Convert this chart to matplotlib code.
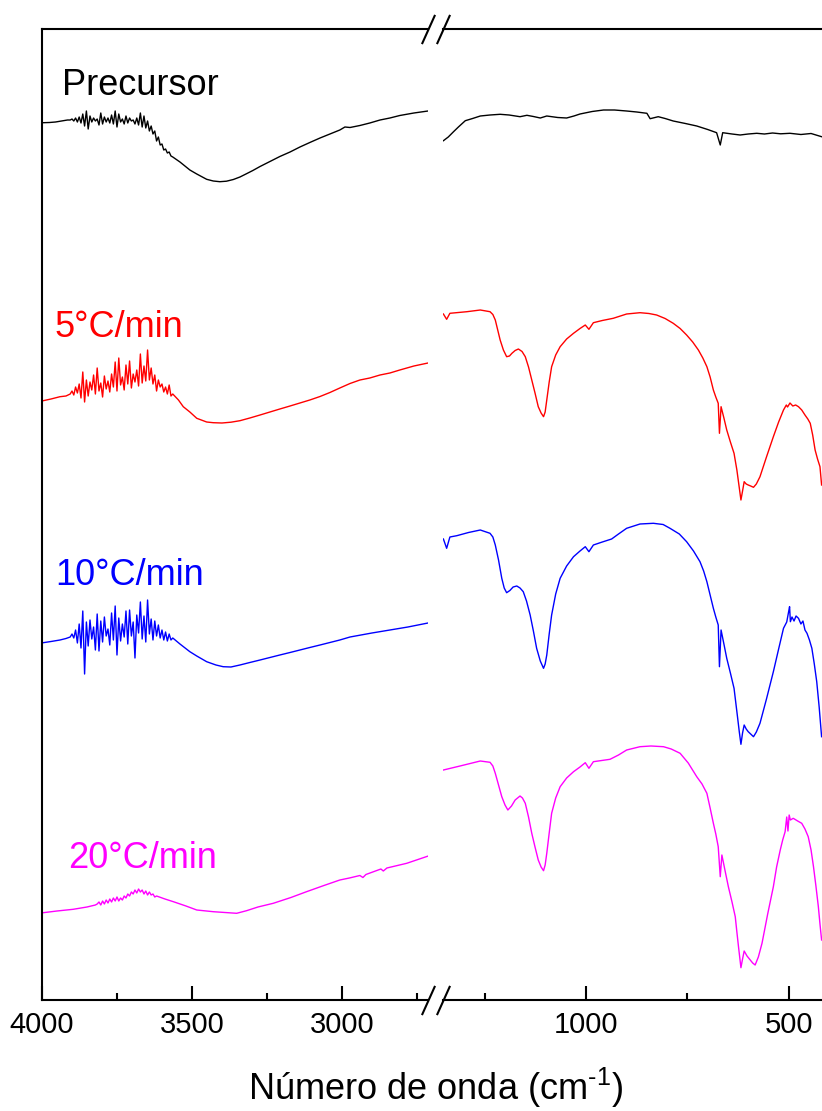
import matplotlib
matplotlib.use("Agg")
import matplotlib.pyplot as plt

plt.rcParams['font.family'] = ['Liberation Sans', 'DejaVu Sans']
plt.rcParams['mathtext.fontset'] = 'custom'
plt.rcParams['mathtext.rm'] = 'Liberation Sans'
plt.rcParams['mathtext.it'] = 'Liberation Sans:italic'

# ---------------------------------------------------------------- data
# shared wavenumber grid of the noisy O-H region (cm^-1)
noise_wn = [3906, 3900, 3894, 3888, 3882, 3876, 3870, 3864, 3858, 3852,
            3846, 3840, 3834, 3828, 3822, 3816, 3810, 3804, 3798, 3792,
            3786, 3780, 3774, 3768, 3762, 3756, 3750, 3744, 3738, 3732,
            3726, 3720, 3714, 3708, 3702, 3696, 3690, 3684, 3678, 3672,
            3666, 3660, 3654, 3648, 3642, 3636, 3630, 3624, 3618, 3612,
            3606, 3600, 3594, 3588, 3582, 3576, 3570, 3564]

# Precursor
prec_hi_wn = ([3996, 3975, 3955, 3935, 3915] + noise_wn +
              [3540, 3507, 3484, 3451, 3429, 3407, 3385, 3362, 3340, 3320,
               3297, 3273, 3240, 3207, 3173, 3140, 3107, 3073, 3040, 3007,
               2990, 2973, 2940, 2907, 2873, 2840, 2807, 2760, 2713])
prec_hi_t = ([87.73, 87.75, 87.8, 87.9, 88.0] +
             [88.0, 88.1, 87.9, 88.2, 87.8, 88.3, 87.7, 88.6, 87.4, 88.9,
              87.1, 88.4, 87.8, 88.2, 87.9, 88.1, 87.5, 88.7, 87.6, 88.3,
              87.8, 88.2, 87.7, 88.5, 87.6, 88.9, 87.3, 88.6, 87.8, 88.1,
              87.6, 88.4, 87.7, 88.2, 87.9, 88.0, 87.6, 88.2, 87.5, 88.7,
              87.3, 88.4, 87.2, 87.9, 86.9, 87.4, 86.6, 86.9, 85.9, 86.3,
              85.5, 85.6, 85.0, 85.1, 84.7, 84.8, 84.4, 84.3] +
             [83.8, 83.0, 82.6, 82.07, 81.9, 81.83, 81.88, 82.05, 82.3, 82.6,
              82.95, 83.35, 83.85, 84.35, 84.8, 85.3, 85.75, 86.2, 86.6, 87.0,
              87.3, 87.25, 87.45, 87.7, 88.0, 88.2, 88.45, 88.7, 88.9])
prec_lo_wn = [1352, 1340, 1327, 1315, 1298, 1280, 1261, 1237, 1212, 1190,
              1163, 1146, 1130, 1113, 1097, 1070, 1048, 1030, 1015, 985,
              957, 930, 900, 875, 850, 842, 835, 822, 805, 785, 755, 727,
              700, 678, 669, 663, 640, 620, 600, 579, 560, 540, 520, 497,
              470, 445, 419]
prec_lo_t = [85.93, 86.3, 86.83, 87.3, 87.93, 88.15, 88.4, 88.5, 88.57, 88.5,
             88.33, 88.47, 88.35, 88.2, 88.4, 88.25, 88.2, 88.4, 88.6, 88.85,
             89.0, 89.0, 88.9, 88.8, 88.67, 88.13, 88.2, 88.33, 88.15, 87.9,
             87.65, 87.4, 87.05, 86.73, 85.5, 86.73, 86.6, 86.5, 86.6, 86.67,
             86.6, 86.7, 86.62, 86.67, 86.55, 86.65, 86.33]

# 5 °C/min
r5_hi_wn = ([3996, 3970, 3940, 3920] + noise_wn +
            [3545, 3529, 3507, 3484, 3451, 3429, 3400, 3370, 3340, 3307,
             3273, 3240, 3207, 3173, 3140, 3107, 3073, 3040, 3007, 2973,
             2940, 2907, 2873, 2840, 2807, 2760, 2713])
r5_hi_t = ([59.93, 60.1, 60.33, 60.4] +
           [60.6, 60.9, 60.5, 61.3, 60.7, 61.6, 60.2, 62.8, 59.8, 62.0,
            60.4, 61.8, 61.0, 62.5, 60.6, 63.2, 60.9, 61.7, 60.3, 62.4,
            61.1, 61.9, 60.8, 62.6, 61.3, 63.8, 60.9, 64.2, 61.5, 62.3,
            61.0, 63.5, 61.6, 63.9, 61.2, 62.6, 61.8, 63.0, 61.4, 64.6,
            61.7, 63.4, 61.9, 65.0, 62.0, 63.2, 61.6, 62.5, 60.9, 62.0,
            61.3, 61.6, 60.8, 61.3, 60.6, 61.5, 60.4, 60.6] +
           [60.0, 59.33, 58.8, 58.17, 57.8, 57.73, 57.7, 57.78, 57.93, 58.2,
            58.5, 58.8, 59.1, 59.4, 59.7, 60.0, 60.35, 60.75, 61.2, 61.65,
            62.0, 62.2, 62.5, 62.7, 63.0, 63.4, 63.7])
r5_lo_wn = [1352, 1344, 1336, 1294, 1261, 1237, 1230, 1224, 1218, 1212,
            1204, 1196, 1189, 1183, 1175, 1167, 1158, 1150, 1142, 1134,
            1126, 1118, 1111, 1105, 1101, 1097, 1091, 1085, 1075, 1064,
            1048, 1031, 1015, 1002, 993, 982, 960, 933, 900, 867, 845, 826,
            805, 785, 768, 752, 737, 723, 712, 702, 694, 686, 680, 674,
            671, 667, 660, 653, 644, 635, 628, 622, 618, 614, 610, 605,
            600, 594, 587, 580, 571, 555, 538, 525, 513, 506, 503, 497,
            490, 483, 476, 468, 460, 453, 447, 441, 435, 429, 423, 419]
r5_lo_t = [68.6, 68.07, 68.67, 68.83, 69.0, 68.83, 68.55, 68.0, 67.0, 66.0,
           65.0, 64.33, 64.4, 64.67, 64.95, 65.1, 64.85, 64.33, 63.3, 62.0,
           60.7, 59.33, 58.7, 58.33, 58.8, 60.0, 61.8, 63.33, 64.5, 65.33,
           66.1, 66.67, 67.15, 67.5, 67.07, 67.73, 67.95, 68.17, 68.6, 68.73,
           68.65, 68.5, 68.15, 67.67, 67.15, 66.5, 65.8, 65.0, 64.2, 63.33,
           62.3, 61.0, 60.3, 59.67, 56.67, 59.33, 58.2, 57.0, 55.8, 54.67,
           53.0, 51.2, 50.0, 50.9, 51.83, 51.6, 51.5, 51.4, 51.27, 51.6,
           52.33, 54.3, 56.33, 57.8, 59.0, 59.5, 59.3, 59.7, 59.4, 59.5,
           59.33, 59.0, 58.5, 58.1, 57.67, 56.5, 55.0, 54.1, 53.33, 51.5]

# 10 °C/min
r10_hi_wn = ([3996, 3970, 3940, 3920] + noise_wn +
             [3540, 3507, 3484, 3451, 3420, 3396, 3370, 3340, 3307, 3273,
              3240, 3207, 3173, 3140, 3107, 3073, 3040, 3007, 2973, 2900,
              2840, 2780, 2713])
r10_hi_t = ([35.73, 35.85, 36.0, 36.15] +
            [36.3, 36.6, 36.2, 37.0, 35.7, 37.6, 35.2, 38.9, 32.6, 37.8,
             35.4, 38.0, 36.1, 37.3, 35.0, 38.6, 34.9, 37.9, 35.8, 38.3,
             36.4, 37.1, 35.5, 38.7, 36.0, 39.4, 34.5, 38.2, 35.9, 37.6,
             36.3, 38.9, 35.6, 39.0, 36.4, 37.8, 34.2, 38.5, 36.7, 39.8,
             36.1, 38.4, 35.8, 40.0, 36.6, 38.1, 36.0, 37.9, 36.4, 37.5,
             36.2, 37.0, 36.0, 36.8, 35.9, 36.6, 36.0, 36.2] +
            [35.6, 34.83, 34.4, 33.83, 33.5, 33.33, 33.3, 33.5, 33.75, 34.0,
             34.25, 34.5, 34.75, 35.0, 35.25, 35.5, 35.75, 36.0, 36.3, 36.7,
             37.0, 37.3, 37.7])
r10_lo_wn = [1352, 1344, 1336, 1319, 1290, 1261, 1237, 1230, 1224, 1216,
             1208, 1202, 1196, 1188, 1180, 1171, 1163, 1155, 1147, 1138,
             1130, 1122, 1113, 1105, 1101, 1097, 1091, 1085, 1075, 1064,
             1048, 1031, 1015, 1002, 993, 982, 960, 937, 920, 900, 867,
             834, 810, 793, 770, 752, 735, 719, 710, 702, 694, 686, 680,
             674, 671, 667, 660, 653, 644, 635, 627, 622, 618, 614, 610,
             605, 600, 594, 587, 580, 571, 555, 538, 525, 513, 505, 500,
             498, 496, 492, 487, 482, 476, 470, 465, 460, 455, 449, 443,
             437, 431, 425, 419]
r10_lo_t = [46.1, 45.17, 46.3, 46.43, 46.75, 47.0, 46.67, 46.3, 45.5, 44.0,
            42.17, 41.2, 40.73, 40.95, 41.3, 41.4, 41.2, 40.83, 39.9, 38.5,
            36.9, 35.17, 33.9, 33.17, 33.6, 34.5, 36.6, 38.5, 40.6, 42.17,
            43.4, 44.33, 44.9, 45.33, 44.83, 45.5, 45.8, 46.1, 46.6, 47.17,
            47.6, 47.67, 47.55, 47.17, 46.6, 45.83, 44.9, 43.83, 42.9, 41.83,
            40.5, 39.17, 38.3, 37.5, 33.33, 37.0, 35.6, 34.17, 32.7, 31.17,
            28.5, 26.8, 25.57, 26.7, 27.5, 27.1, 26.83, 26.6, 26.33, 26.8,
            27.67, 30.1, 32.83, 35.1, 37.17, 37.8, 38.9, 39.33, 37.83, 38.3,
            37.9, 38.4, 38.17, 37.6, 37.9, 37.0, 36.67, 36.0, 35.17, 33.6,
            31.83, 29.3, 26.33]

# 20 °C/min
r20_hi_wn = ([3996, 3950, 3896, 3850, 3822] +
             [3816, 3810, 3804, 3798, 3792, 3786, 3780, 3774, 3768, 3762,
              3756, 3750, 3744, 3738, 3732, 3726, 3720, 3714, 3708, 3702,
              3696, 3690, 3684, 3678, 3672, 3666, 3660, 3654, 3648, 3642,
              3636, 3630, 3624, 3618] +
             [3590, 3562, 3520, 3484, 3429, 3390, 3351, 3318, 3280, 3229,
              3170, 3118, 3060, 3007, 2975, 2940, 2930, 2920, 2870, 2862,
              2850, 2784, 2712])
r20_hi_t = ([8.73, 8.9, 9.07, 9.3, 9.5] +
            [9.6, 9.8, 9.5, 9.9, 9.6, 10.0, 9.7, 10.1, 9.8, 10.2,
             9.9, 10.3, 9.9, 10.2, 10.0, 10.4, 10.2, 10.6, 10.4, 10.8,
             10.6, 11.0, 10.7, 11.1, 10.8, 11.0, 10.6, 10.9, 10.5, 10.8,
             10.5, 10.6, 10.3, 10.4] +
            [10.1, 9.83, 9.4, 9.0, 8.83, 8.75, 8.67, 8.93, 9.3, 9.67,
             10.25, 10.83, 11.45, 12.0, 12.2, 12.45, 12.25, 12.55, 13.1, 12.9,
             13.2, 13.67, 14.4])
r20_lo_wn = [1352, 1311, 1261, 1237, 1230, 1224, 1216, 1208, 1200, 1193,
             1184, 1175, 1163, 1157, 1150, 1142, 1134, 1126, 1118, 1111,
             1105, 1101, 1097, 1091, 1085, 1075, 1064, 1048, 1031, 1015,
             1002, 993, 982, 941, 920, 900, 867, 840, 809, 790, 768, 748,
             727, 714, 702, 694, 686, 680, 674, 669, 665, 657, 649, 640,
             632, 628, 624, 618, 614, 610, 603, 595, 589, 583, 575, 566,
             552, 538, 530, 521, 515, 509, 505, 502, 499, 496, 489, 478,
             468, 460, 452, 445, 439, 433, 427, 423, 419]
r20_lo_t = [23.0, 23.4, 23.9, 23.77, 23.4, 22.67, 21.5, 20.33, 19.5, 19.0,
            19.4, 20.0, 20.4, 20.2, 19.67, 18.3, 16.67, 15.3, 14.0, 13.3,
            12.93, 13.5, 14.67, 16.7, 18.67, 20.2, 21.33, 22.2, 22.83, 23.3,
            23.73, 23.17, 23.83, 24.07, 24.5, 25.0, 25.33, 25.4, 25.33, 25.1,
            24.67, 23.7, 22.33, 21.6, 20.67, 19.2, 17.67, 16.6, 15.33, 12.33,
            14.5, 12.9, 11.33, 9.8, 8.33, 6.8, 5.33, 3.23, 4.1, 4.9,
            4.4, 4.0, 3.7, 3.5, 4.3, 5.67, 8.6, 11.33, 13.3, 15.0,
            16.0, 16.83, 18.3, 16.9, 18.5, 18.0, 18.17, 17.9, 17.67, 17.1,
            16.33, 15.0, 13.33, 11.4, 9.33, 7.6, 6.0]

series_names = ["Precursor", "5°C/min", "10°C/min", "20°C/min"]
series_colors = ["black", "#ff0000", "#0000ff", "#ff00ff"]
hi_wn = [prec_hi_wn, r5_hi_wn, r10_hi_wn, r20_hi_wn]
hi_t = [prec_hi_t, r5_hi_t, r10_hi_t, r20_hi_t]
lo_wn = [prec_lo_wn, r5_lo_wn, r10_lo_wn, r20_lo_wn]
lo_t = [prec_lo_t, r5_lo_t, r10_lo_t, r20_lo_t]

# label anchor (wavenumber, transmittance) of each curve name
label_wn = [3933, 3957, 3957, 3913]
label_t = [90.5, 66.3, 41.5, 13.2]

hi_ticks = [4000, 3500, 3000]
hi_minor = [3750, 3250, 2750]
lo_ticks = [1000, 500]
lo_minor = [1250, 750]

# ---------------------------------------------------------------- figure
W, H = 822, 1111
fig = plt.figure(figsize=(W / 100, H / 100), dpi=100)
bottom, height = 111 / H, 971 / H
ax1 = fig.add_axes([42 / W, bottom, 386 / W, height])
ax2 = fig.add_axes([443 / W, bottom, 379 / W, height])

ax1.set_xlim(4000, 2713)
ax2.set_xlim(1353, 418)
for ax in (ax1, ax2):
    ax.set_ylim(0, 97.1)
    ax.set_yticks([])
    for s in ax.spines.values():
        s.set_linewidth(1.5)
    ax.tick_params(axis='x', which='both', direction='in', width=1.5,
                   labelsize=21, pad=8, top=False)
    ax.tick_params(axis='x', which='major', length=10)
    ax.tick_params(axis='x', which='minor', length=5)
ax1.spines['right'].set_visible(False)
ax2.spines['left'].set_visible(False)
ax2.spines['right'].set_visible(False)
ax2.tick_params(axis='y', left=False)

ax1.set_xticks(hi_ticks)
ax1.set_xticks(hi_minor, minor=True)
ax2.set_xticks(lo_ticks)
ax2.set_xticks(lo_minor, minor=True)

for c, x1, y1, x2, y2 in zip(series_colors, hi_wn, hi_t, lo_wn, lo_t):
    ax1.plot(x1, y1, color=c, lw=1.0)
    ax2.plot(x2, y2, color=c, lw=1.0)

for name, c, x, y in zip(series_names, series_colors, label_wn, label_t):
    ax1.text(x, y, name, color=c, fontsize=26, va='baseline', ha='left')

# axis-break slashes at the gap
slash = dict(marker=[(-0.45, -1), (0.45, 1)], markersize=21, linestyle='none',
             color='k', mec='k', mew=1.5, clip_on=False)
ax1.plot([1, 1], [0, 1], transform=ax1.transAxes, **slash)
ax2.plot([0, 0], [0, 1], transform=ax2.transAxes, **slash)

fig.text(436 / W, (H - 1100) / H, r"Número de onda (cm$^{\text{-1}}$)",
         fontsize=26, ha='center', va='baseline')

fig.savefig("out.png", dpi=100)
